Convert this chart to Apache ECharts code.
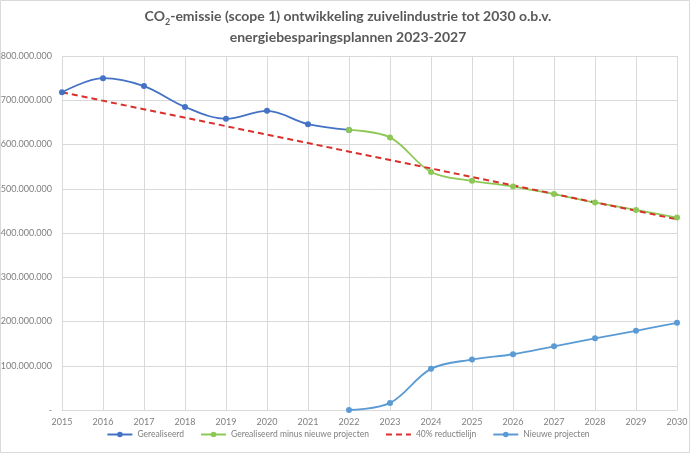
<!DOCTYPE html>
<html><head><meta charset="utf-8">
<script src="https://cdn.jsdelivr.net/npm/echarts@6/dist/echarts.min.js"></script>
<style>html,body{margin:0;padding:0;background:#fff}#c{width:696px;height:454px}</style>
</head><body><div id="c"></div>
<script>
const years = ['2015','2016','2017','2018','2019','2020','2021','2022','2023','2024','2025','2026','2027','2028','2029','2030'];
const gerealiseerd = [718e6,750e6,732e6,685e6,658e6,676e6,646e6,633e6,null,null,null,null,null,null,null,null];
const minusNieuw = [null,null,null,null,null,null,null,633e6,616e6,538e6,518e6,505e6,488e6,469e6,452e6,435e6];
const reductie = [718e6,null,null,null,null,null,null,null,null,null,null,null,null,null,null,431e6];
const nieuw = [null,null,null,null,null,null,null,0,16e6,93e6,114e6,126e6,144e6,162e6,179e6,197e6];
const yTicks = [0,100e6,200e6,300e6,400e6,500e6,600e6,700e6,800e6];

const chart = echarts.init(document.getElementById('c'));
const fmt = v => v === 0 ? '-' : String(Math.round(v)).replace(/\B(?=(\d{3})+(?!\d))/g, '.');
const font = 'Lato, "Open Sans", sans-serif';
chart.setOption({
  animation:false,
  textStyle:{fontFamily:font},
  title:{
    text:'{a|CO}{s|2}{a|-emissie (scope 1) ontwikkeling zuivelindustrie tot 2030 o.b.v.}\n{a|energiebesparingsplannen 2023-2027}',
    left:'center', top:1,
    textStyle:{rich:{
      a:{fontFamily:font,fontSize:14,fontWeight:'bold',color:'#595959',lineHeight:21},
      s:{fontFamily:font,fontSize:9,fontWeight:'bold',color:'#595959',verticalAlign:'bottom',padding:[6,0,0,0],lineHeight:21}
    }}
  },
  graphic:[{type:'rect',shape:{x:0.5,y:0.5,width:689,height:452},style:{fill:'none',stroke:'#d9d9d9',lineWidth:1},silent:true}],
  legend:{
    bottom:10, left:'center', itemGap:16, itemWidth:25, itemHeight:7,
    textStyle:{fontFamily:font,fontSize:8.5,color:'#7f7f7f'},
    data:['Gerealiseerd','Gerealiseerd minus nieuwe projecten',{name:'40% reductielijn',itemStyle:{opacity:0}},'Nieuwe projecten']
  },
  grid:{left:62,right:19,top:56,bottom:44,outerBoundsMode:'none',containLabel:false},
  xAxis:{type:'category',data:years,boundaryGap:false,
    axisLine:{lineStyle:{color:'#d9d9d9'}},axisTick:{show:false},
    axisLabel:{color:'#7f7f7f',fontSize:9,margin:8,fontFamily:font},
    splitLine:{show:true,lineStyle:{color:'#d9d9d9'}}},
  yAxis:{type:'value',min:0,max:800e6,interval:100e6,
    axisLine:{show:false},axisTick:{show:false},
    axisLabel:{color:'#7f7f7f',fontSize:9,margin:10,fontFamily:font,formatter:fmt},
    splitLine:{lineStyle:{color:'#d9d9d9'}}},
  series:[
    {name:'Gerealiseerd',type:'line',data:gerealiseerd,smooth:0.35,symbol:'circle',symbolSize:6,
      lineStyle:{color:'#4472C4',width:1.8},itemStyle:{color:'#4472C4'}},
    {name:'Gerealiseerd minus nieuwe projecten',type:'line',data:minusNieuw,smooth:0.35,symbol:'circle',symbolSize:6,
      lineStyle:{color:'#8DC857',width:1.8},itemStyle:{color:'#8DC857'}},
    {name:'40% reductielijn',type:'line',data:reductie,connectNulls:true,symbol:'none',
      lineStyle:{color:'#D9302C',width:2,type:[6,4]},itemStyle:{color:'#D9302C'}},
    {name:'Nieuwe projecten',type:'line',data:nieuw,smooth:0.35,symbol:'circle',symbolSize:6,
      lineStyle:{color:'#5B9BD5',width:1.8},itemStyle:{color:'#5B9BD5'}}
  ]
});
</script></body></html>
